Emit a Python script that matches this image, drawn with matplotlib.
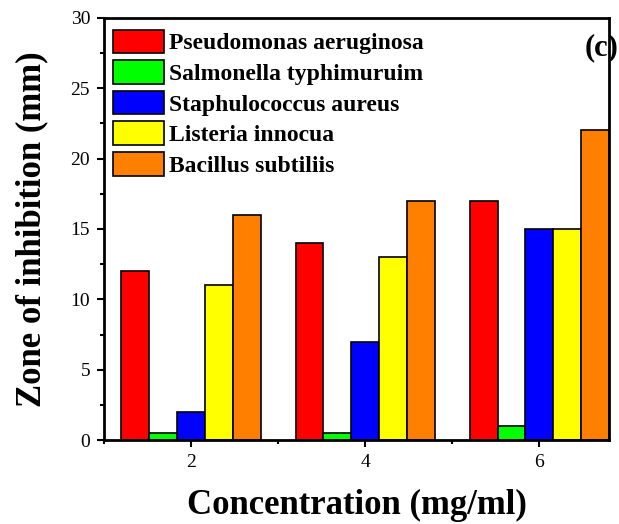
import matplotlib.pyplot as plt
import numpy as np
from matplotlib.ticker import MultipleLocator

plt.rcParams['font.family'] = ['Liberation Serif', 'DejaVu Serif']

concentration = [2, 4, 6]
bacteria = ['Pseudomonas aeruginosa', 'Salmonella typhimuruim', 'Staphulococcus aureus',
            'Listeria innocua', 'Bacillus subtiliis']
colors = ['#ff0000', '#00ff00', '#0000ff', '#ffff00', '#ff8000']
zone = [
    [12, 14, 17],
    [0.5, 0.5, 1],
    [2, 7, 15],
    [11, 13, 15],
    [16, 17, 22],
]

fig = plt.figure(figsize=(6.19, 5.24), dpi=100)
ax = fig.add_axes([0.168, 0.160, 0.816, 0.806])

width = 0.32
x = np.array(concentration, dtype=float)
for i in range(len(bacteria)):
    ax.bar(x + (i - 2) * width, zone[i], width, color=colors[i], edgecolor='black',
           linewidth=1.2, label=bacteria[i])

ax.set_xlim(1.0, 6.8)
ax.set_ylim(0, 30)
ax.set_xticks(concentration)
ax.xaxis.set_minor_locator(MultipleLocator(1))
ax.yaxis.set_major_locator(MultipleLocator(5))
ax.yaxis.set_minor_locator(MultipleLocator(2.5))
ax.tick_params(which='both', direction='out', width=1.5, labelsize=14)
ax.tick_params(which='major', length=5, pad=5)
ax.tick_params(which='minor', length=3)
for s in ax.spines.values():
    s.set_linewidth(2)

ax.set_xlabel('Concentration (mg/ml)', fontsize=25, fontweight='bold', labelpad=13)
ax.set_ylabel('Zone of inhibition (mm)', fontsize=25, fontweight='bold', labelpad=16)
ax.text(1.018, 0.929, '(c)', transform=ax.transAxes, fontsize=22, fontweight='bold',
        ha='right', va='center', clip_on=False)

ax.legend(loc='upper left', bbox_to_anchor=(-0.006, 1.0), frameon=False,
          prop={'size': 17, 'weight': 'bold'}, handlelength=2.17, handleheight=1.15,
          labelspacing=0.25, handletextpad=0.2, borderaxespad=0.25, borderpad=0.25)

plt.savefig('out.png', dpi=100)
